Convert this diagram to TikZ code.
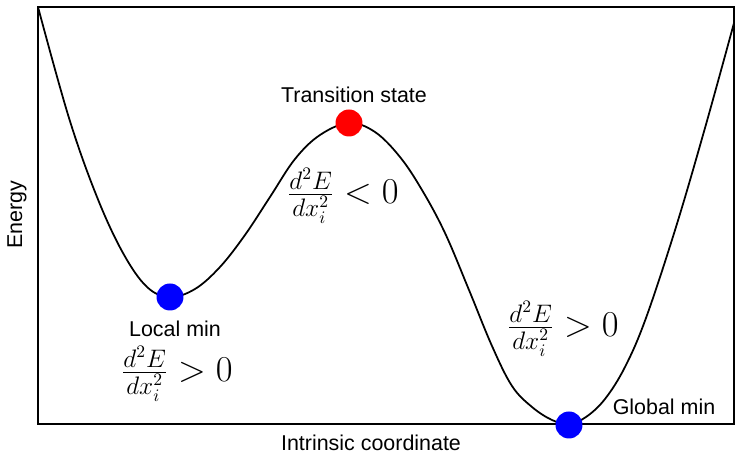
\documentclass[tikz,border=0pt]{standalone}
\usepackage{amsmath}
\usepackage{fontspec}
\setmainfont{Liberation Sans}
\usetikzlibrary{positioning}

\begin{document}
\begin{tikzpicture}[x=0.02cm,y=-0.02cm]
\useasboundingbox (0,0) rectangle (735,455);
\tikzset{lbl/.style={font=\fontsize{12.2}{14}\selectfont,inner sep=0pt},
  eqn/.style={font=\fontsize{20}{24}\selectfont,inner sep=0pt},
  pt/.style={circle,inner sep=0pt,minimum size=0.54cm}}
\draw[line width=0.6pt] (38,7) rectangle (734,424);
% energy profile
\draw[line width=1pt] plot[smooth,tension=0.6] coordinates {(38,7) (69,118) (97,197) (123,253) (147,287) (170,297) (195,289) (220,267) (245,235) (270,197) (295,159) (320,135) (349,123) (375,132) (400,157) (422,190) (445,233) (469,290) (492,346) (512,386) (532,407) (552,420) (569,424) (586,417) (605,399) (625,367) (646,318) (676,227) (705,128) (734,23)};
\node[pt,fill=blue] (local_min) at (170,297) {};
\node[pt,fill=red] (ts) at (349,123) {};
\node[pt,fill=blue] (global_min) at (569,425) {};
\node[lbl] (local_lbl) at (175,329) {Local min};
\node[lbl] (ts_lbl) at (354,95) {Transition state};
\node[lbl] (global_lbl) at (664,407) {Global min};
\node[eqn] (local_eq) at (177,374) {$\tfrac{d^2E}{dx_i^2} > 0$};
\node[eqn] (ts_eq) at (343,196) {$\tfrac{d^2E}{dx_i^2} < 0$};
\node[eqn] (global_eq) at (563,329) {$\tfrac{d^2E}{dx_i^2} > 0$};
\node[lbl,rotate=90] (ylbl) at (17,215) {Energy};
\node[lbl] (xlbl) at (371,443) {Intrinsic coordinate};
\end{tikzpicture}
\end{document}
